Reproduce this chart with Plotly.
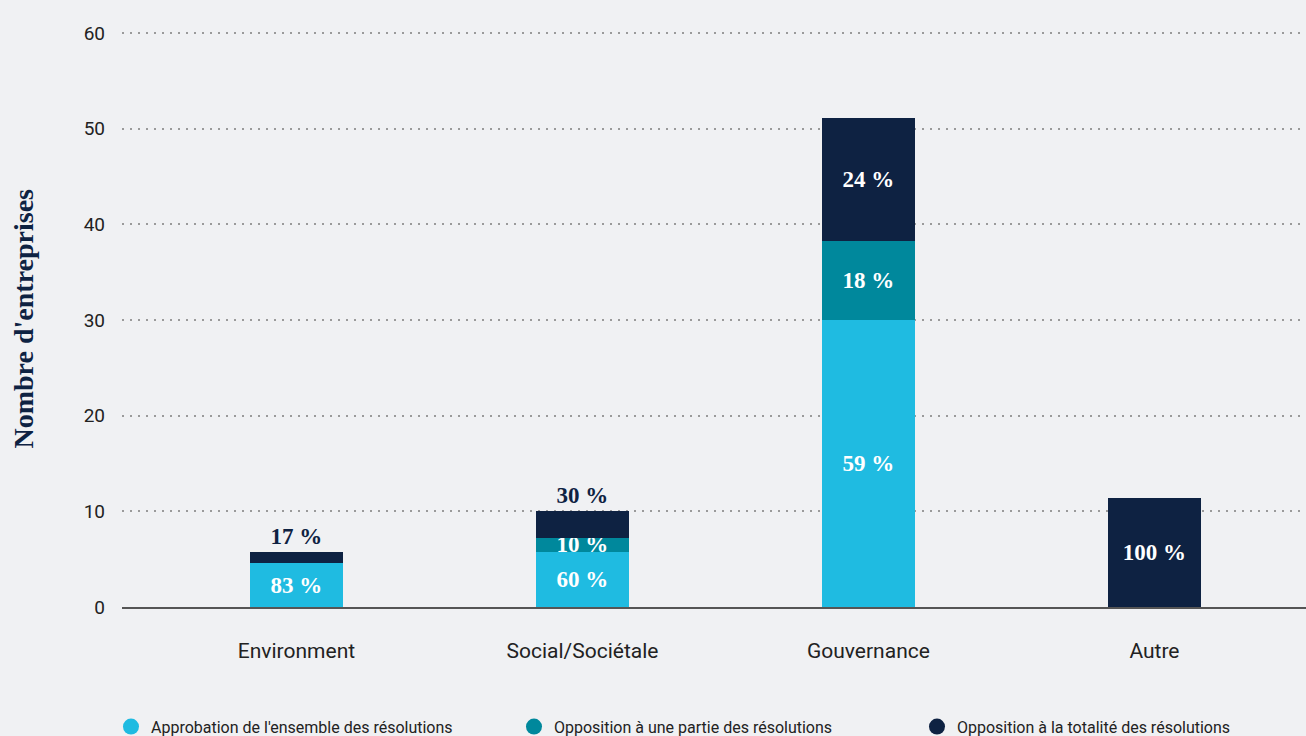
import plotly.graph_objects as go

categories = ["Environment", "Social/Sociétale", "Gouvernance", "Autre"]
approbation = [4.55, 5.8, 30.0, 0]
opposition_partie = [0, 1.45, 8.3, 0]
opposition_totale = [1.2, 2.75, 12.85, 11.35]
approbation_lbl = ["83 %", "60 %", "59 %", ""]
partie_lbl = ["", "10 %", "18 %", ""]
totale_lbl = ["17 %", "30 %", "24 %", "100 %"]
totale_pos = ["outside", "outside", "inside", "inside"]
series_names = ["Approbation de l'ensemble des résolutions",
                "Opposition à une partie des résolutions",
                "Opposition à la totalité des résolutions"]
colors = ["#1fbbe1", "#00889c", "#0e2242"]
y_ticks = [0, 10, 20, 30, 40, 50, 60]

label_font = dict(family="Liberation Serif", size=23, color="white")
fig = go.Figure()
for vals, lbls, name, col in [(approbation, approbation_lbl, series_names[0], colors[0]),
                              (opposition_partie, partie_lbl, series_names[1], colors[1])]:
    fig.add_trace(go.Bar(x=categories, y=vals, name=name, marker_color=col,
                         marker_line_width=0, width=0.325, text=lbls,
                         textposition="inside", insidetextanchor="middle",
                         constraintext="none", textangle=0,
                         texttemplate="<b>%{text}</b>",
                         insidetextfont=label_font, showlegend=False, hoverinfo="skip"))
fig.add_trace(go.Bar(x=categories, y=opposition_totale, name=series_names[2],
                     marker_color=colors[2], marker_line_width=0, width=0.325,
                     text=totale_lbl, textposition=totale_pos, insidetextanchor="middle",
                     constraintext="none", textangle=0, cliponaxis=False,
                     texttemplate="<b>%{text}</b>",
                     insidetextfont=label_font,
                     outsidetextfont=dict(family="Liberation Serif", size=23, color="#0e2242"),
                     showlegend=False, hoverinfo="skip"))
for name, col in zip(series_names, colors):
    fig.add_trace(go.Scatter(x=[None], y=[None], mode="markers", name=name,
                             marker=dict(symbol="circle", size=17, color=col)))

fig.update_layout(
    width=1306, height=736, barmode="stack",
    paper_bgcolor="#f0f1f3", plot_bgcolor="#f0f1f3",
    margin=dict(l=122, r=0, t=30, b=129, autoexpand=False),
    font=dict(family="Roboto", color="#222222"),
    showlegend=True,
    legend=dict(orientation="h", x=-0.0093, xanchor="left", y=-0.178, yanchor="top",
                traceorder="normal",
                font=dict(family="Roboto", size=16, color="#222222"),
                entrywidth=358, entrywidthmode="pixels", itemsizing="trace",
                bgcolor="rgba(0,0,0,0)"),
    xaxis=dict(range=[-0.61, 3.53], showgrid=False, showline=True, linecolor="#555555",
               linewidth=2, ticks="", ticklabelstandoff=24,
               tickfont=dict(family="Roboto", size=21, color="#222222"), fixedrange=True),
    yaxis=dict(range=[0, 60.3], tickvals=y_ticks, showgrid=True, gridcolor="#9a9a9a",
               gridwidth=2, griddash="2px,6px", zeroline=False, showline=False,
               ticks="", ticklabelstandoff=16,
               tickfont=dict(family="Roboto", size=19, color="#222222")),
    annotations=[dict(text="<b>Nombre d'entreprises</b>", xref="paper", yref="paper",
                      x=(23 - 122) / 1184, y=0.5, textangle=-90, showarrow=False,
                      xanchor="center", yanchor="middle",
                      font=dict(family="Liberation Serif", size=28, color="#0e2242"))],
)
fig.write_html("out.html")
